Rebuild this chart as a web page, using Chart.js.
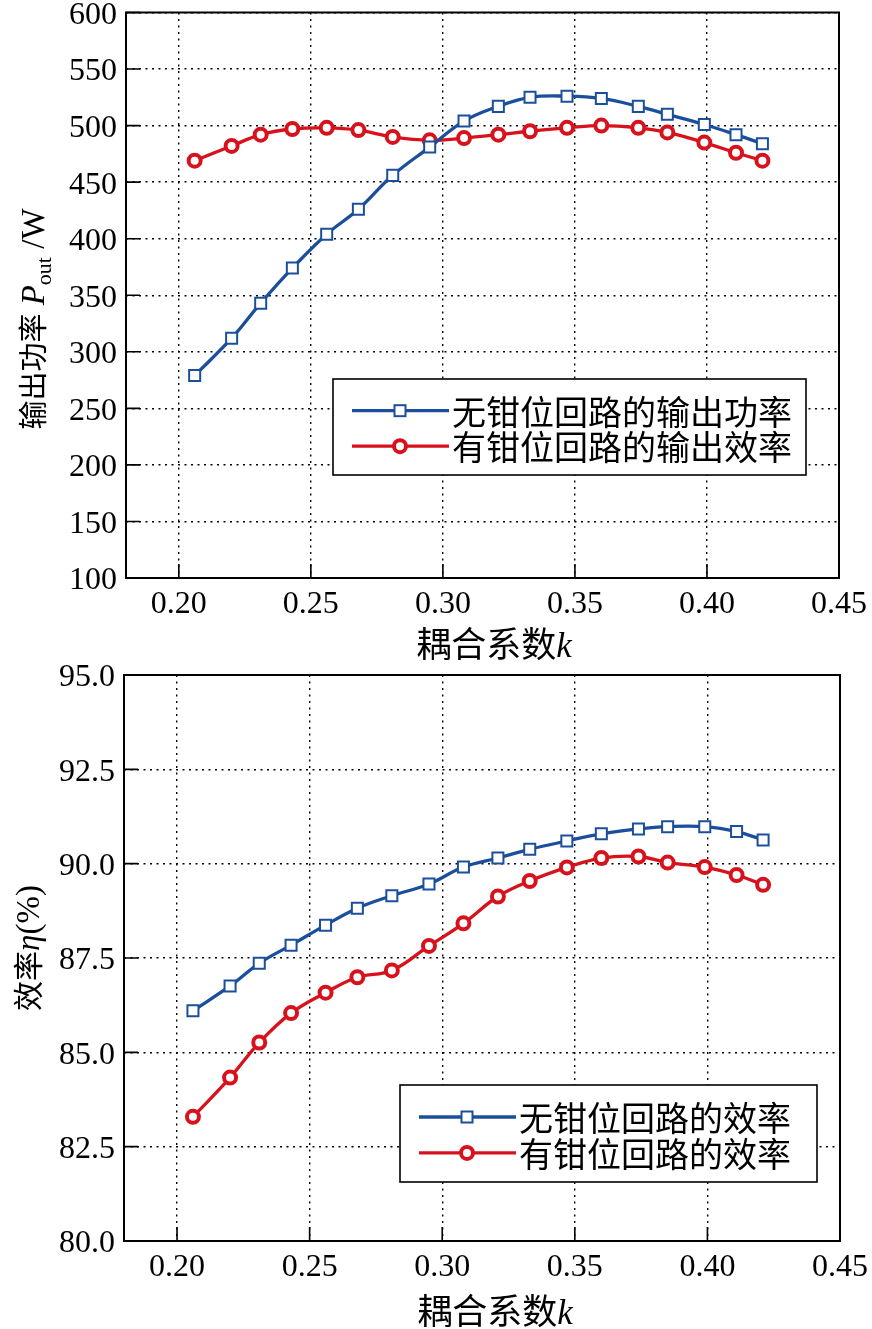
<!DOCTYPE html>
<html>
<head>
<meta charset="utf-8">
<script src="https://cdn.jsdelivr.net/npm/chart.js@4.4.1/dist/chart.umd.min.js"></script>
<style>
  html, body { margin: 0; padding: 0; background: #fff; }
  #wrap { position: relative; width: 872px; height: 1329px; }
  canvas { position: absolute; left: 0; }
  #c1 { top: 0; width: 872px; height: 665px; }
  #c2 { top: 640px; width: 872px; height: 689px; }
</style>
</head>
<body>
<div id="wrap">
  <canvas id="c1" width="872" height="665"></canvas>
  <canvas id="c2" width="872" height="689"></canvas>
</div>
<script>
// coupling coefficient k (x values, shared by both plots)
const kValues = [0.206, 0.220, 0.231, 0.243, 0.256, 0.268, 0.281, 0.295, 0.308,
                 0.321, 0.333, 0.347, 0.360, 0.374, 0.385, 0.399, 0.411, 0.421];

// output power (W)
const powerNoClamp = [279, 312, 343, 374, 404, 426, 456, 481, 504,
                      517, 525, 526, 524, 517, 510, 501, 492, 484];
const powerClamp   = [469, 482, 492, 497, 498, 496, 490, 487, 489,
                      492, 495, 498, 500, 498, 494, 485, 476, 469];

// efficiency (%)
const effNoClamp = [86.10, 86.76, 87.36, 87.84, 88.37, 88.82, 89.15, 89.46, 89.91,
                    90.15, 90.38, 90.60, 90.79, 90.92, 90.98, 90.98, 90.85, 90.63];
const effClamp   = [83.29, 84.33, 85.26, 86.04, 86.58, 86.99, 87.17, 87.82, 88.42,
                    89.13, 89.54, 89.90, 90.15, 90.19, 90.03, 89.91, 89.70, 89.44];

// axis ticks
const xTicks = [0.20, 0.25, 0.30, 0.35, 0.40, 0.45];
const powerTicks = [100, 150, 200, 250, 300, 350, 400, 450, 500, 550, 600];
const effTicks = [80.0, 82.5, 85.0, 87.5, 90.0, 92.5, 95.0];

const labelsPower = ['无钳位回路的输出功率', '有钳位回路的输出效率'];
const labelsEff = ['无钳位回路的效率', '有钳位回路的效率'];

const BLUE = '#1c4f9b';
const RED = '#d8121c';
const SERIF = '"Liberation Serif", "Times New Roman", serif';
const CJK = '"Noto Sans CJK SC", "Liberation Serif", sans-serif';

function toPoints(ys) {
  return kValues.map((k, i) => ({ x: k, y: ys[i] }));
}

function series(label, ys, color, style) {
  const isRect = style === 'rect';
  return {
    label: label,
    data: toPoints(ys),
    borderColor: color,
    borderWidth: 3.3,
    tension: 0.4,
    pointStyle: style,
    pointRadius: isRect ? 7.8 : 6,
    pointBorderWidth: isRect ? 2 : 4,
    pointBackgroundColor: '#fff',
    pointBorderColor: color
  };
}

// draw text made of several pieces (for italic symbols and subscripts)
function drawRich(ctx, segs, cx, cy, vertical) {
  ctx.save();
  ctx.translate(cx, cy);
  if (vertical) ctx.rotate(-Math.PI / 2);
  let total = 0;
  segs.forEach(s => { ctx.font = s.font; s.w = ctx.measureText(s.text).width; total += s.w; });
  let x = -total / 2;
  ctx.fillStyle = '#000';
  ctx.textAlign = 'left';
  ctx.textBaseline = 'alphabetic';
  segs.forEach(s => {
    ctx.font = s.font;
    ctx.fillText(s.text, x, s.dy || 0);
    x += s.w;
  });
  ctx.restore();
}

const framePlugin = {
  id: 'frame',
  afterDatasetsDraw(chart, args, opts) {
    const { ctx, chartArea: a, scales: { x, y } } = chart;
    ctx.save();
    // inward ticks
    ctx.strokeStyle = '#000';
    ctx.lineWidth = 1.6;
    ctx.beginPath();
    x.ticks.forEach(t => {
      const px = x.getPixelForValue(t.value);
      ctx.moveTo(px, a.bottom);
      ctx.lineTo(px, a.bottom - 14);
    });
    y.ticks.forEach(t => {
      const py = y.getPixelForValue(t.value);
      ctx.moveTo(a.left, py);
      ctx.lineTo(a.left + 14, py);
    });
    ctx.stroke();
    // box
    ctx.lineWidth = 2;
    ctx.strokeRect(a.left, a.top, a.right - a.left, a.bottom - a.top);

    // legend box
    const L = opts.legend;
    ctx.fillStyle = '#fff';
    ctx.fillRect(L.x, L.y, L.w, L.h);
    ctx.lineWidth = 1.6;
    ctx.strokeStyle = '#000';
    ctx.strokeRect(L.x, L.y, L.w, L.h);
    chart.data.datasets.forEach((ds, i) => {
      const ry = L.y + L.h * (i === 0 ? 0.33 : 0.70);
      ctx.strokeStyle = ds.borderColor;
      ctx.lineWidth = 3.3;
      ctx.beginPath();
      ctx.moveTo(L.x + 19, ry);
      ctx.lineTo(L.x + 116, ry);
      ctx.stroke();
      const mx = L.x + 67;
      ctx.fillStyle = '#fff';
      if (ds.pointStyle === 'rect') {
        ctx.lineWidth = 2;
        ctx.fillRect(mx - 5.5, ry - 5.5, 11, 11);
        ctx.strokeRect(mx - 5.5, ry - 5.5, 11, 11);
      } else {
        ctx.lineWidth = 4;
        ctx.beginPath();
        ctx.arc(mx, ry, 6, 0, Math.PI * 2);
        ctx.fill();
        ctx.stroke();
      }
      ctx.fillStyle = '#000';
      ctx.font = '34px ' + CJK;
      ctx.textAlign = 'left';
      ctx.textBaseline = 'middle';
      ctx.fillText(ds.label, L.x + 119, ry + 1);
    });
    ctx.restore();
  },
  afterDraw(chart, args, opts) {
    const xt = opts.xTitle, yt = opts.yTitle;
    drawRich(chart.ctx, xt.segs, xt.x, xt.y, false);
    drawRich(chart.ctx, yt.segs, yt.x, yt.y, true);
  }
};

function makeChart(id, datasets, yMin, yMax, yTickVals, yFmt, layout, pluginOpts) {
  return new Chart(document.getElementById(id), {
    type: 'line',
    data: { datasets: datasets },
    plugins: [framePlugin],
    options: {
      responsive: false,
      animation: false,
      events: [],
      layout: { padding: layout.padding },
      scales: {
        x: {
          type: 'linear',
          min: 0.18,
          max: 0.45,
          afterBuildTicks: s => { s.ticks = xTicks.map(v => ({ value: v })); },
          afterFit: s => { s.height = layout.xHeight; s.paddingLeft = 0; s.paddingRight = 0; },
          ticks: {
            color: '#000',
            padding: 7,
            maxRotation: 0,
            font: { family: SERIF, size: 32 },
            callback: v => v.toFixed(2)
          },
          grid: { color: '#000', lineWidth: 1.4, drawTicks: false },
          border: { display: false, dash: [2, 4.5] }
        },
        y: {
          type: 'linear',
          min: yMin,
          max: yMax,
          afterBuildTicks: s => { s.ticks = yTickVals.map(v => ({ value: v })); },
          afterFit: s => { s.width = layout.yWidth; s.paddingTop = 0; s.paddingBottom = 0; },
          ticks: {
            color: '#000',
            padding: 9,
            labelOffset: 3,
            font: { family: SERIF, size: 32 },
            callback: yFmt
          },
          grid: { color: '#000', lineWidth: 1.4, drawTicks: false },
          border: { display: false, dash: [2, 4.5] }
        }
      },
      plugins: {
        legend: { display: false },
        tooltip: { enabled: false },
        frame: pluginOpts
      }
    }
  });
}

makeChart('c1',
  [series(labelsPower[0], powerNoClamp, BLUE, 'rect'),
   series(labelsPower[1], powerClamp, RED, 'circle')],
  100, 600, powerTicks, v => String(v),
  { padding: { top: 12.5, right: 33, left: 0, bottom: 0 }, yWidth: 126, xHeight: 87 },
  {
    legend: { x: 333, y: 379, w: 473, h: 96 },
    xTitle: { x: 494, y: 657, segs: [
      { text: '耦合系数', font: '35px ' + CJK },
      { text: 'k', font: 'italic 35px ' + SERIF }
    ] },
    yTitle: { x: 44, y: 319, segs: [
      { text: '输出功率', font: '29px ' + CJK },
      { text: ' P', font: 'italic 33px ' + SERIF },
      { text: 'out', font: '22px ' + SERIF, dy: 7 },
      { text: ' /W', font: '33px ' + SERIF }
    ] }
  });

// second canvas starts at page y = 640
makeChart('c2',
  [series(labelsEff[0], effNoClamp, BLUE, 'rect'),
   series(labelsEff[1], effClamp, RED, 'circle')],
  80, 95, effTicks, v => v.toFixed(1),
  { padding: { top: 35, right: 32, left: 0, bottom: 0 }, yWidth: 124, xHeight: 88 },
  {
    legend: { x: 400, y: 445, w: 417, h: 97 },
    xTitle: { x: 495, y: 684, segs: [
      { text: '耦合系数', font: '35px ' + CJK },
      { text: 'k', font: 'italic 35px ' + SERIF }
    ] },
    yTitle: { x: 39, y: 308, segs: [
      { text: '效率', font: '30px ' + CJK },
      { text: 'η', font: 'italic 33px ' + SERIF },
      { text: '(%)', font: '33px ' + SERIF }
    ] }
  });
</script>
</body>
</html>
